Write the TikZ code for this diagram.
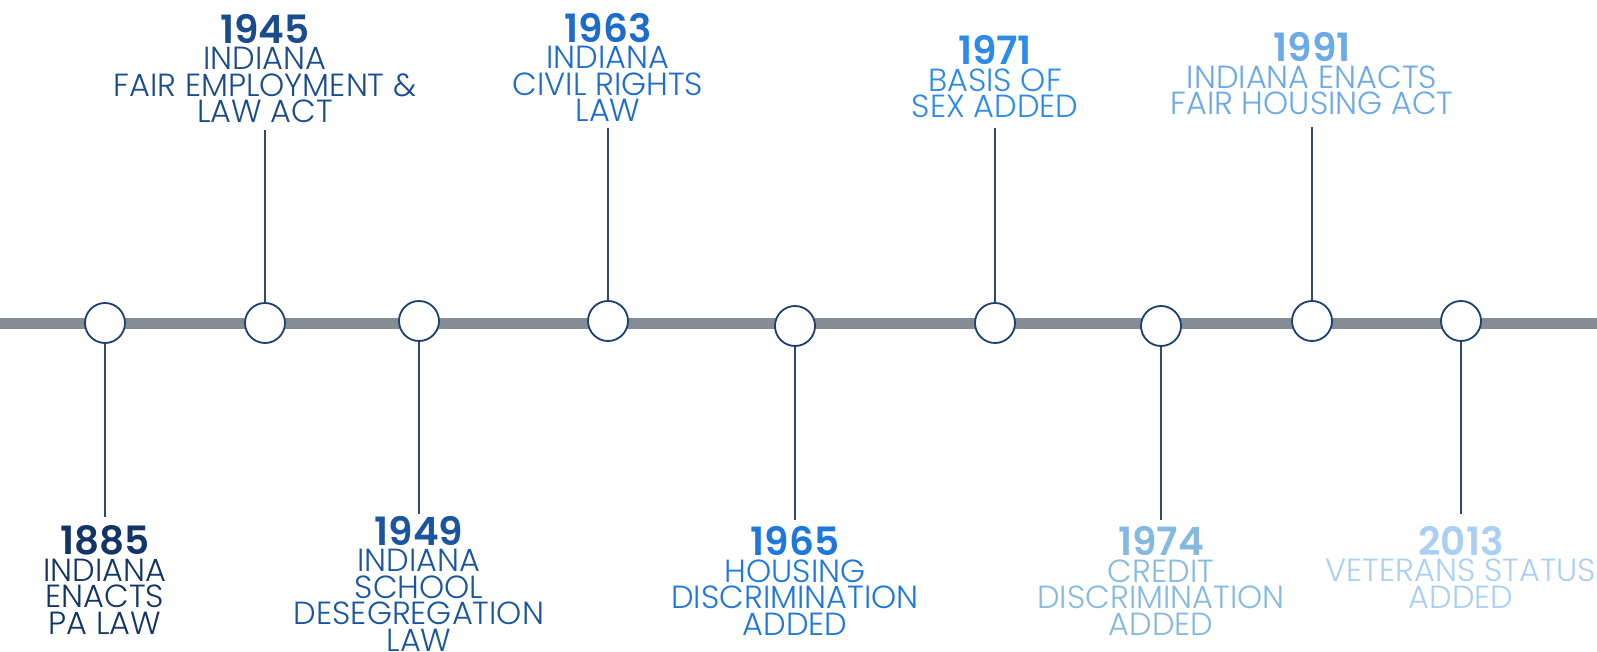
\documentclass[tikz,border=0pt]{standalone}
\usepackage{fontspec}
\newfontfamily\descf{Poppins Light}
\newfontfamily\yearf{Poppins SemiBold}
\definecolor{barcol}{HTML}{868C93}
\definecolor{navy}{HTML}{1D3F6E}
\definecolor{linecol}{HTML}{2C4A75}
\definecolor{cA}{HTML}{123466}
\definecolor{cB}{HTML}{1A4C8C}
\definecolor{cC}{HTML}{1A55A0}
\definecolor{cD}{HTML}{1C6CCB}
\definecolor{cE}{HTML}{1E77DB}
\definecolor{cF}{HTML}{2D8BE8}
\definecolor{cG}{HTML}{84BAE0}
\definecolor{cH}{HTML}{6BA9E8}
\definecolor{cI}{HTML}{A9D0F2}
\newcommand\yr[1]{{\yearf\fontsize{39}{26.5}\selectfont #1}}
\begin{document}
\begin{tikzpicture}[x=1pt,y=-1pt,
  dot/.style={circle,draw=navy,line width=1.8pt,fill=white,minimum size=40pt,inner sep=0pt},
  conn/.style={draw=linecol,line width=1.4pt},
  lbl/.style={anchor=base,align=center,inner sep=0pt,font=\descf\fontsize{32}{26.5}\selectfont}]
\useasboundingbox (0,0) rectangle (1597,652);
\fill[white] (0,0) rectangle (1597,652);
% bar
\coordinate (barL) at (0,323.5);
\coordinate (barR) at (1597,323.5);
\draw[barcol,line width=11pt] (barL) -- (barR);
% dots
\node[dot] (d1) at (105,323) {};
\node[dot] (d2) at (265,323) {};
\node[dot] (d3) at (419,321) {};
\node[dot] (d4) at (608,321) {};
\node[dot] (d5) at (795,326) {};
\node[dot] (d6) at (995,323) {};
\node[dot] (d7) at (1161,326) {};
\node[dot] (d8) at (1312,321) {};
\node[dot] (d9) at (1461,321) {};
% connector ends
\coordinate (e1) at (105,517);
\coordinate (e2) at (265,130);
\coordinate (e3) at (419,514);
\coordinate (e4) at (608,128);
\coordinate (e5) at (795,520);
\coordinate (e6) at (995,128);
\coordinate (e7) at (1161,520);
\coordinate (e8) at (1312,127);
\coordinate (e9) at (1461,514);
\draw[conn] (d1.south) -- (e1);
\draw[conn] (e2) -- (d2.north);
\draw[conn] (d3.south) -- (e3);
\draw[conn] (e4) -- (d4.north);
\draw[conn] (d5.south) -- (e5);
\draw[conn] (e6) -- (d6.north);
\draw[conn] (d7.south) -- (e7);
\draw[conn] (e8) -- (d8.north);
\draw[conn] (d9.south) -- (e9);
% labels (anchored at the baseline of their last line)
\node[lbl,text=cA] (t1) at (105,634) {\yr{1885}\\INDIANA\\ENACTS\\PA LAW};
\node[lbl,text=cB] (t2) at (265,123) {\yr{1945}\\INDIANA\\FAIR EMPLOYMENT \&\hspace*{17pt}\\LAW ACT};
\node[lbl,text=cC] (t3) at (419,651) {\yr{1949}\\INDIANA\\SCHOOL\\DESEGREGATION\\LAW};
\node[lbl,text=cD] (t4) at (608,122) {\yr{1963}\\INDIANA\\CIVIL RIGHTS\\LAW};
\node[lbl,text=cE] (t5) at (795,635) {\yr{1965}\\HOUSING\\DISCRIMINATION\\ADDED};
\node[lbl,text=cF] (t6) at (995,118) {\yr{1971}\\BASIS OF\\SEX ADDED};
\node[lbl,text=cG] (t7) at (1161,635) {\yr{1974}\\CREDIT\\DISCRIMINATION\\ADDED};
\node[lbl,text=cH] (t8) at (1312,115) {\yr{1991}\\INDIANA ENACTS\\FAIR HOUSING ACT};
\node[lbl,text=cI] (t9) at (1461,608) {\yr{2013}\\VETERANS STATUS\\ADDED};
\end{tikzpicture}
\end{document}
